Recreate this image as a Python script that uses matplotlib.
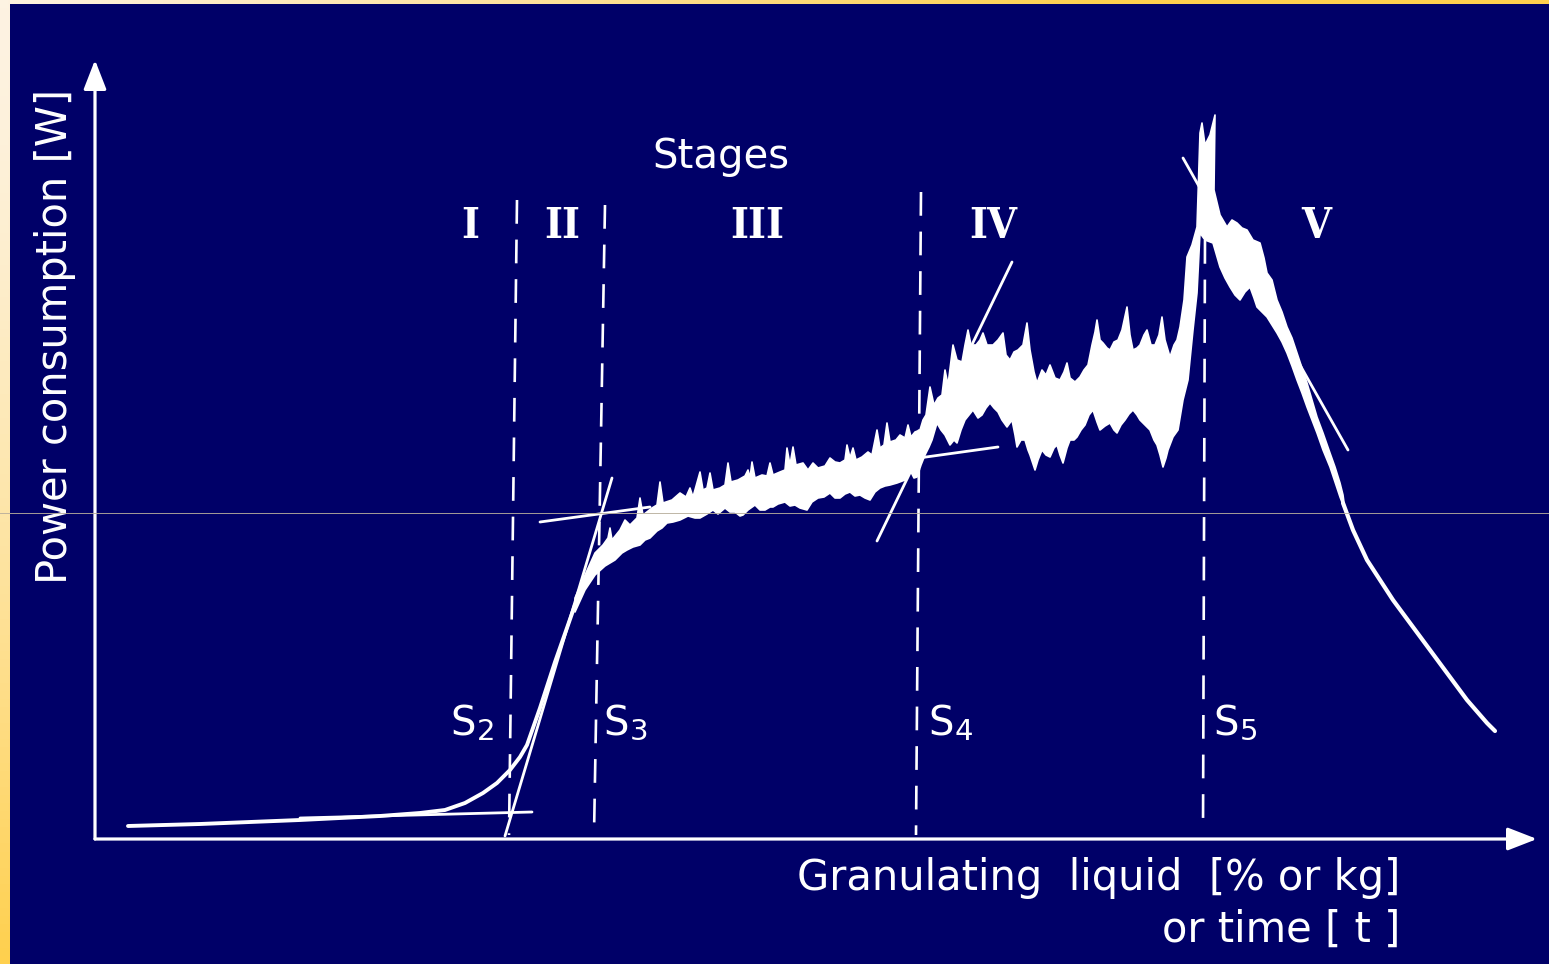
import numpy as np
import matplotlib
matplotlib.use("Agg")
import matplotlib.pyplot as plt
from matplotlib.lines import Line2D

# ---------------- data (arbitrary units: x = granulating liquid, y = power) ----------------
# Stage I / II smooth rise (thin trace)
rise_x = [33, 105, 205, 285, 325, 350, 370, 388, 402, 415, 425, 432, 445, 460, 473, 480]
rise_y = [13, 15, 19, 23, 26, 29, 36, 46, 56, 69, 82, 94, 131, 177, 214, 234]

# Noisy band (stages II-V): upper envelope
band_up_x = [480, 490, 500, 508, 513, 515, 517, 525, 530, 535, 542, 545, 548, 557, 562, 565, 568,
             577, 585, 591, 595, 598, 605, 608, 612, 615, 618, 625, 630, 633, 636, 643, 650, 653,
             655, 657, 660, 667, 672, 675, 678, 685, 690, 692, 695, 698, 701, 708, 713, 718, 723,
             730, 735, 740, 745, 750, 752, 755, 758, 761, 767, 773, 777, 782, 785, 789, 792, 795,
             801, 805, 810, 813, 816, 820, 825, 828, 831, 835, 839, 843, 847, 850, 853, 858, 862,
             867, 870, 873, 876, 881, 885, 888, 892, 898, 903, 908, 911, 915, 919, 923, 928, 932,
             935, 939, 942, 947, 951, 955, 960, 965, 969, 972, 975, 980, 985, 989, 993, 997, 1000,
             1002, 1005, 1008, 1012, 1015, 1019, 1023, 1027, 1032, 1035, 1038, 1042, 1045, 1049,
             1052, 1056, 1060, 1064, 1067, 1070, 1075, 1079, 1082, 1085, 1089, 1092, 1097, 1102,
             1105, 1107, 1110, 1115, 1120, 1119, 1125, 1132, 1137, 1142, 1147, 1152, 1158, 1165,
             1169, 1172, 1177, 1182, 1187, 1192, 1197, 1202, 1207, 1212, 1217, 1222, 1228, 1235,
             1240, 1245, 1248]
band_up_y = [241, 264, 286, 294, 301, 311, 299, 309, 319, 314, 321, 341, 324, 331, 334, 357, 336,
             339, 346, 342, 351, 342, 367, 349, 351, 366, 349, 351, 354, 376, 357, 359, 363, 369,
             361, 377, 361, 364, 363, 376, 364, 367, 369, 391, 374, 392, 374, 376, 369, 376, 371,
             373, 381, 377, 376, 379, 394, 381, 391, 379, 382, 387, 384, 409, 391, 394, 416, 397,
             399, 404, 401, 414, 402, 407, 409, 419, 424, 452, 434, 441, 444, 469, 454, 494, 479,
             477, 494, 509, 494, 494, 499, 506, 494, 494, 499, 506, 484, 479, 487, 489, 494, 516,
             489, 467, 456, 469, 464, 474, 461, 459, 467, 476, 461, 457, 462, 469, 474, 494, 507,
             519, 499, 496, 491, 489, 497, 499, 509, 532, 504, 489, 491, 494, 504,
             509, 494, 494, 504, 522, 499, 482, 494, 499, 512, 539, 582, 594, 612,
             706, 716, 694, 704, 724, 649, 624, 612, 619, 616, 611, 609, 599, 596,
             581, 566, 559, 539, 527, 512, 501, 486, 471, 456, 439, 422, 406, 386,
             372, 356, 344]
# Noisy band: lower envelope
band_lo_x = [480, 490, 500, 510, 520, 527, 532, 538, 545, 550, 555, 562, 567, 572, 578, 585, 593,
             600, 605, 612, 618, 623, 630, 635, 640, 645, 648, 653, 660, 665, 670, 675, 678, 683,
             690, 695, 700, 705, 712, 717, 723, 729, 735, 740, 745, 750, 755, 760, 765, 770, 775,
             780, 785, 790, 795, 802, 810, 815, 819, 822, 826, 830, 834, 837, 842, 846, 850, 855,
             859, 862, 866, 870, 874, 878, 883, 887, 891, 895, 899, 903, 907, 912, 917, 920, 922,
             926, 930, 933, 935, 940, 943, 947, 951, 955, 959, 962, 965, 968, 972, 975, 979, 982,
             986, 990, 994, 998, 1002, 1005, 1010, 1015, 1019, 1022, 1026, 1030, 1034, 1038, 1042,
             1045, 1050, 1055, 1059, 1062, 1065, 1068, 1071, 1073, 1078, 1083, 1088, 1093, 1098,
             1102, 1105, 1110, 1118, 1125, 1130, 1135, 1140, 1145, 1150, 1155, 1159, 1162, 1167,
             1172, 1177, 1182, 1187, 1192, 1197, 1202, 1207, 1212, 1217, 1222, 1228, 1235, 1240,
             1245, 1250]
band_lo_y = [227, 249, 264, 273, 279, 286, 289, 292, 294, 299, 301, 308, 311, 316, 317, 319, 323,
             321, 321, 325, 329, 325, 331, 327, 327, 323, 324, 329, 334, 329, 329, 332, 332, 335,
             337, 333, 334, 331, 329, 337, 341, 342, 346, 341, 341, 345, 347, 343, 344, 341, 339,
             347, 351, 353, 354, 356, 359, 369, 361, 362, 374, 384, 392, 399, 416, 409, 404, 394,
             399, 396, 409, 419, 424, 429, 421, 424, 431, 436, 431, 427, 419, 412, 419, 404, 392,
             399, 399, 389, 384, 369, 379, 389, 384, 382, 391, 394, 384, 376, 391, 399, 399, 402,
             409, 414, 424, 429, 417, 409, 413, 416, 409, 406, 414, 419, 425, 429, 424,
             419, 414, 409, 399, 394, 384, 372, 381, 389, 402, 409, 439, 459, 509,
             546, 606, 599, 596, 572, 561, 552, 544, 539, 547, 552, 541, 532, 527,
             522, 514, 506, 497, 486, 473, 459, 446, 432, 419, 406, 389, 372, 357,
             342, 329]

# Stage V decline (thin trace)
fall_x = [1248, 1258, 1272, 1285, 1298, 1315, 1335, 1352, 1372, 1392, 1400]
fall_y = [336, 309, 279, 259, 239, 216, 189, 166, 139, 116, 108]

# Construction (tangent) lines: start and end points
tangent_x0 = [205, 410, 445, 782, 795, 1088]
tangent_y0 = [21, 3, 317, 298, 377, 681]
tangent_x1 = [437, 517, 555, 917, 903, 1253]
tangent_y1 = [27, 361, 332, 577, 392, 389]

# Stage boundaries S2..S5 (slightly tilted dashed lines)
bound_names = ["2", "3", "4", "5"]
bound_x_top = [422, 510, 826, 1110]
bound_y_top = [639, 634, 647, 599]
bound_x_bot = [414, 499, 821, 1108]
bound_y_bot = [4, 4, 4, 7]

stage_labels = ["I", "II", "III", "IV", "V"]

# ---------------- styling ----------------
NAVY = "#000068"
WHITE = "#ffffff"
W, H = 1549, 964

fig = plt.figure(figsize=(W / 100, H / 100), dpi=100)

# yellow scanned-slide border (gradient)
bg = fig.add_axes([0, 0, 1, 1])
gx, gy = np.meshgrid(np.linspace(0, 1, 200), np.linspace(0, 1, 120))
t = np.clip(gx * 1.4 + gy ** 1.5, 0, 1)[..., None]
c0 = np.array([253, 243, 226]) / 255
c1 = np.array([255, 208, 78]) / 255
bg.imshow(c0 * (1 - t) + c1 * t, aspect="auto", extent=[0, 1, 0, 1], origin="upper")
bg.set_axis_off()

ax = fig.add_axes([10 / W, 0, (W - 10) / W, (H - 4) / H])
ax.set_facecolor(NAVY)
ax.set_xlim(-85, 1454)
ax.set_ylim(-125, 835)
ax.set_xticks([])
ax.set_yticks([])
for s in ax.spines.values():
    s.set_visible(False)

# axes with arrows
arrow_kw = dict(arrowstyle="-|>,head_length=0.9,head_width=0.35", lw=2.3, color=WHITE,
                mutation_scale=20, shrinkA=0, shrinkB=0)
ax.annotate("", xy=(0, 779), xytext=(0, 0), arrowprops=arrow_kw)
ax.annotate("", xy=(1442, 0), xytext=(0, 0), arrowprops=arrow_kw)

# stage boundaries
for xt, yt, xb, yb in zip(bound_x_top, bound_y_top, bound_x_bot, bound_y_bot):
    ax.plot([xt, xb], [yt, yb], color=WHITE, lw=1.9, ls=(0, (9, 6)), solid_capstyle="butt")

# tangent lines
for x0, y0, x1, y1 in zip(tangent_x0, tangent_y0, tangent_x1, tangent_y1):
    ax.plot([x0, x1], [y0, y1], color=WHITE, lw=2.0, solid_capstyle="round")

# the trace
ax.plot(rise_x, rise_y, color=WHITE, lw=2.8, solid_capstyle="round", solid_joinstyle="round")
poly_x = band_up_x + band_lo_x[::-1]
poly_y = band_up_y + band_lo_y[::-1]
ax.fill(poly_x, poly_y, facecolor=WHITE, edgecolor=WHITE, lw=1.2, joinstyle="round")
ax.plot(fall_x, fall_y, color=WHITE, lw=3.0, solid_capstyle="round", solid_joinstyle="round")

# texts
sans = ["DejaVu Sans"]
ax.text(626, 682, "Stages", color=WHITE, fontsize=29, family=sans, ha="center", va="center")
for lab, xl in zip(stage_labels, [375, 467, 662, 898, 1221]):
    ax.text(xl, 613, lab, color=WHITE, fontsize=31,
            family=["DejaVu Serif Condensed", "DejaVu Serif"], fontstretch="condensed",
            weight="bold", ha="center", va="center")
for name, xs in zip(bound_names, [355, 508, 833, 1118]):
    ax.annotate("S", xy=(xs, 115), color=WHITE, fontsize=29, family=sans, ha="left",
                va="center")
    ax.annotate(name, xy=(xs, 115), xytext=(19, -6), textcoords="offset points",
                color=WHITE, fontsize=21, family=sans, ha="left", va="center")

ax.text(-40, 503, "Power consumption [W]", color=WHITE, fontsize=30, family=sans,
        rotation=90, ha="center", va="center")
ax.text(1305, -39, "Granulating  liquid  [% or kg]", color=WHITE, fontsize=30, family=sans,
        ha="right", va="center")
ax.text(1305, -91, "or time [ t ]", color=WHITE, fontsize=30, family=sans,
        ha="right", va="center")

# faint horizontal scan artefact across the slide
fig.add_artist(Line2D([0, 1], [(H - 513) / H] * 2, transform=fig.transFigure,
                      color="#b8ae9c", lw=0.7, alpha=0.9))

fig.savefig("out.png", dpi=100, facecolor=fig.get_facecolor())
